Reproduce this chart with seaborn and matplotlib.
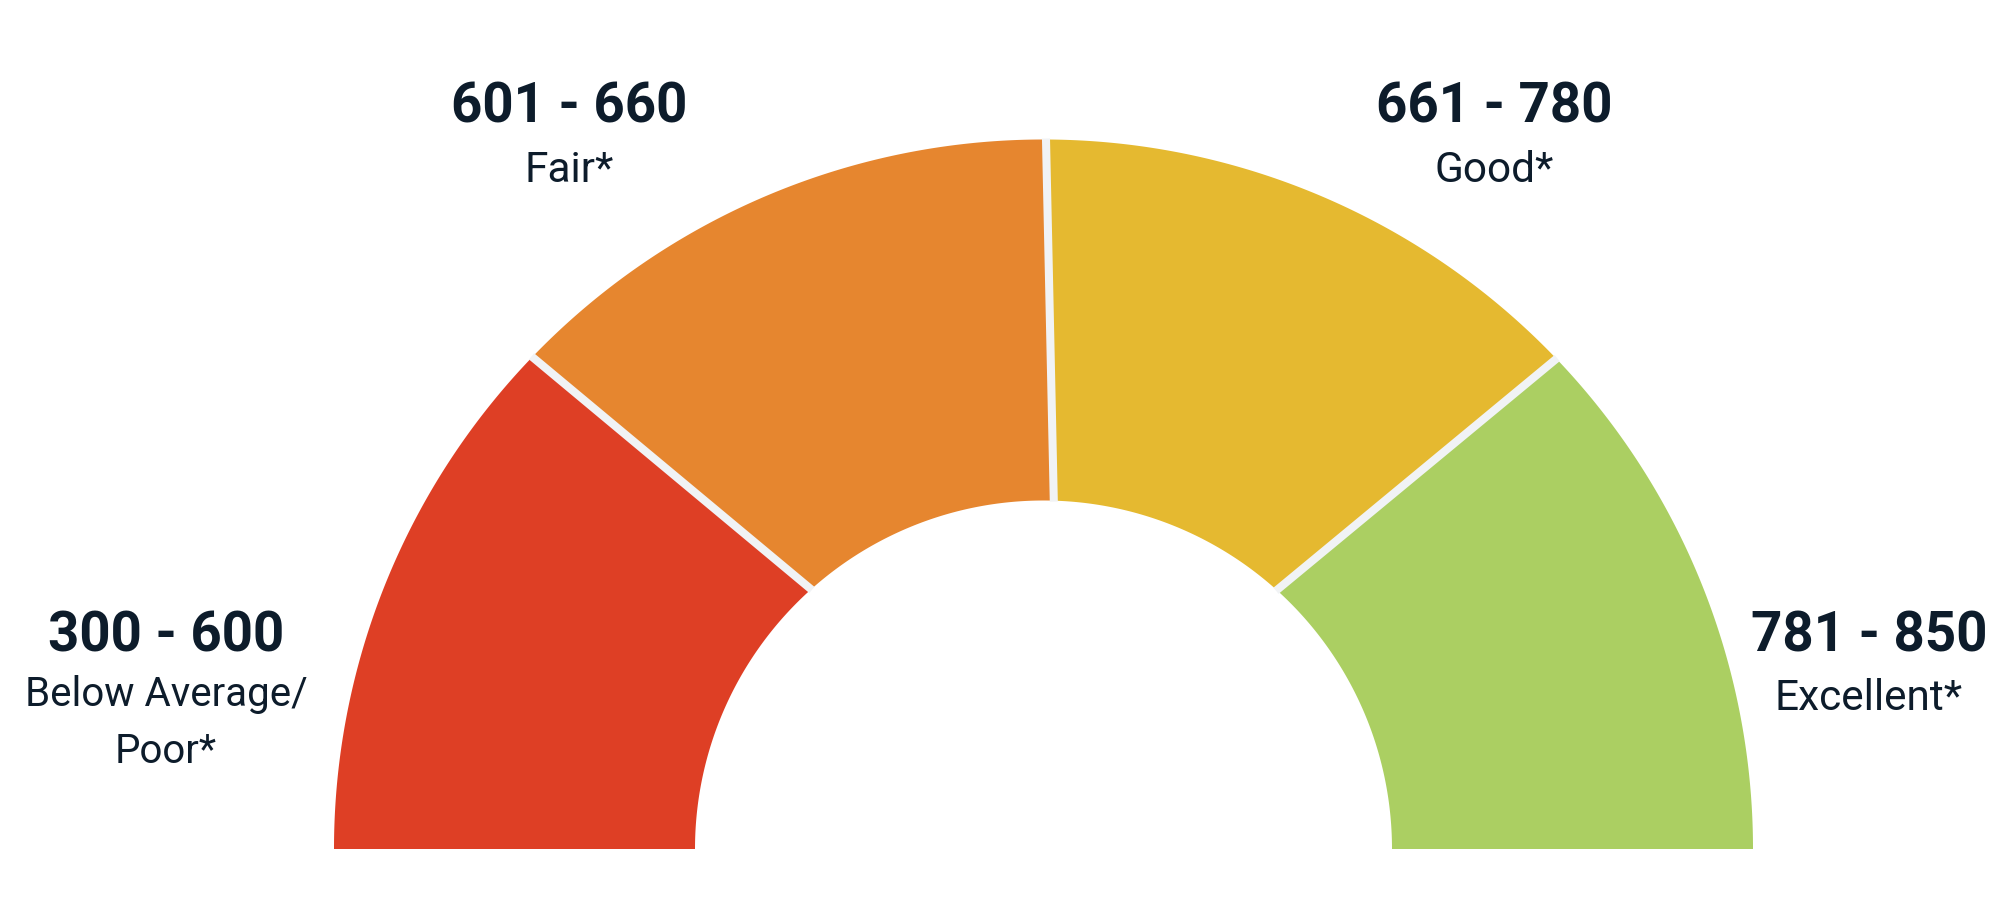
import numpy as np
import matplotlib
matplotlib.use("Agg")
import matplotlib.pyplot as plt
from matplotlib.patches import Polygon
import seaborn as sns

# ---- data ----
score_ranges = ["300 - 600", "601 - 660", "661 - 780", "781 - 850"]
band_labels = ["Below Average/\nPoor*", "Fair*", "Good*", "Excellent*"]
band_shares = [1, 1, 1, 1]          # equal angular share of the half dial
band_colors = ["#de3f25", "#e6862f", "#e5b930", "#abcf62"]

# ---- style / layout ----
sns.set_theme(style="white")
plt.rcParams["font.family"] = ["Roboto", "DejaVu Sans"]
TEXT = "#0d1c2b"
GAP = "#f1f3f5"

W, H = 2000, 922
fig = plt.figure(figsize=(W / 100, H / 100), dpi=100)
ax = fig.add_axes([0, 0, 1, 1])
ax.set_xlim(0, W)
ax.set_ylim(0, H)
ax.axis("off")

cx, cy = 1043.5, 922 - 849
r_out, r_in = 709.5, 348.5

palette = sns.color_palette(band_colors)

# boundary angles from the shares (degrees, 180 -> 0)
cum = np.concatenate([[0], np.cumsum(band_shares)]) / np.sum(band_shares)
theta = 180 - 180 * cum
# separators in the reference are slightly skewed (outer / inner offsets)
skew_out = [0, 1.1, -0.2, -1.3, 0]
skew_in = [0, -3.2, -1.7, 3.0, 0]
th_out = theta + np.array(skew_out)
th_in = theta + np.array(skew_in)


def pt(r, a):
    a = np.deg2rad(a)
    return cx + r * np.cos(a), cy + r * np.sin(a)


for i in range(len(band_shares)):
    ao = np.linspace(th_out[i], th_out[i + 1], 200)
    ai = np.linspace(th_in[i + 1], th_in[i], 200)
    xs = np.concatenate([cx + r_out * np.cos(np.deg2rad(ao)),
                         cx + r_in * np.cos(np.deg2rad(ai))])
    ys = np.concatenate([cy + r_out * np.sin(np.deg2rad(ao)),
                         cy + r_in * np.sin(np.deg2rad(ai))])
    ax.add_patch(Polygon(np.column_stack([xs, ys]), closed=True,
                         facecolor=palette[i], edgecolor="none", zorder=1))

# separator gaps
for j in range(1, len(band_shares)):
    x0, y0 = pt(r_in - 1, th_in[j])
    x1, y1 = pt(r_out + 1, th_out[j])
    ax.plot([x0, x1], [y0, y1], color=GAP, lw=5.8,
            solid_capstyle="butt", zorder=2)

# label anchor positions (pixels from top) for each band
label_x = [166, 569, 1494, 1869]
range_base = [651, 123, 123, 651]
label_base = [706, 182, 182, 710]
label_size = [29, 30.5, 30.5, 30.5]
line_step = 57

for i in range(len(score_ranges)):
    ax.text(label_x[i], H - range_base[i], score_ranges[i], ha="center",
            va="baseline", fontsize=39.3, fontweight="bold", color=TEXT)
    for k, line in enumerate(band_labels[i].split("\n")):
        ax.text(label_x[i], H - (label_base[i] + k * line_step), line,
                ha="center", va="baseline", fontsize=label_size[i], color=TEXT)

fig.savefig("out.png", dpi=100, facecolor="white")
